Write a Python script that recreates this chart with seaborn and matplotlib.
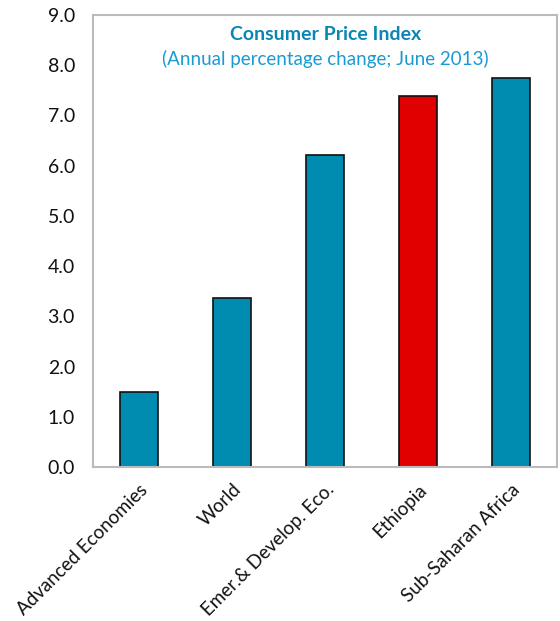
import matplotlib
matplotlib.use("Agg")
import matplotlib.pyplot as plt
import seaborn as sns
import pandas as pd

categories = ["Advanced Economies", "World", "Emer.& Develop. Eco.", "Ethiopia", "Sub-Saharan Africa"]
cpi_change = [1.5, 3.37, 6.21, 7.39, 7.74]
highlight = "Ethiopia"

title = "Consumer Price Index"
subtitle = "(Annual percentage change; June 2013)"

sns.set_theme(style="white")
plt.rcParams["font.family"] = ["Lato", "DejaVu Sans"]

df = pd.DataFrame({"region": categories, "cpi": cpi_change})
teal = "#008BB0"
red = "#E00000"
palette = {c: (red if c == highlight else teal) for c in categories}

fig = plt.figure(figsize=(5.6, 6.21), dpi=100)
ax = fig.add_axes([0.166, 0.248, 0.829, 0.728])

sns.barplot(data=df, x="region", y="cpi", hue="region", palette=palette,
            width=0.41, edgecolor="#111111", linewidth=1.2, saturation=1,
            legend=False, ax=ax)

ax.set_ylim(0, 9)
ax.set_yticks([i for i in range(10)])
ax.set_yticklabels([f"{i:.1f}" for i in range(10)], fontsize=14, color="#111111")
ax.set_xlim(-0.5, len(categories) - 0.5)
ax.set_xticks(range(len(categories)))
ax.set_xticklabels(categories, rotation=45, ha="right", rotation_mode="anchor",
                   fontsize=13.5, color="#111111")
ax.set_xlabel("")
ax.set_ylabel("")

# minor ticks between categories on the bottom axis
ax.set_xticks([i + 0.5 for i in range(len(categories) - 1)], minor=True)
ax.tick_params(axis="x", which="major", length=0, pad=10)
ax.tick_params(axis="x", which="minor", direction="in", length=5, color="#BBBBBB", width=1.5)
ax.tick_params(axis="y", direction="in", length=5, color="#BBBBBB", width=1.5, pad=13)

for s in ax.spines.values():
    s.set_color("#BBBBBB")
    s.set_linewidth(1.5)
    s.set_visible(True)

ax.text(0.5, 0.975, title, transform=ax.transAxes, ha="center", va="top",
        fontsize=14, fontweight="bold", color="#0A86B4")
ax.text(0.5, 0.922, subtitle, transform=ax.transAxes, ha="center", va="top",
        fontsize=13.5, color="#1A9AD2")

fig.savefig("out.png", dpi=100)
